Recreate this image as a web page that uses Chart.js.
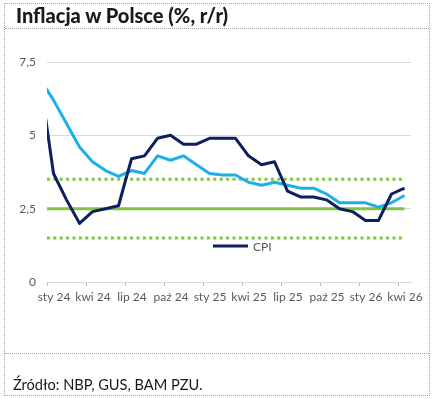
<!DOCTYPE html>
<html lang="pl">
<head>
<meta charset="utf-8">
<title>Inflacja w Polsce</title>
<script src="https://cdn.jsdelivr.net/npm/chart.js@4.4.1/dist/chart.umd.min.js"></script>
<style>
  html, body { margin: 0; padding: 0; background: #fff; }
  body { width: 435px; height: 399px; position: relative; overflow: hidden; font-family: Lato, "Open Sans", sans-serif; }
  #wykres { position: absolute; left: 0; top: 0; }
  .ramka { position: absolute; left: 4px; top: 3px; width: 424px; height: 391px; border: 1px dotted #a6a6a6; }
  .linia { position: absolute; left: 5px; width: 424px; border-top: 1px dotted #a6a6a6; }
  .tytul { position: absolute; left: 16px; top: 6px; font-size: 20px; line-height: 18px; font-weight: 900; color: #1a1a1a; white-space: nowrap; }
  .zrodlo { position: absolute; left: 13px; top: 378px; font-size: 14.6px; line-height: 14px; color: #1a1a1a; white-space: nowrap; }
</style>
</head>
<body>
<canvas id="wykres" width="435" height="399"></canvas>
<div class="ramka"></div>
<div class="tytul">Inflacja w Polsce (%, r/r)</div>
<div class="linia" style="top:28px"></div>
<div class="linia" style="top:353px"></div>
<div class="zrodlo">Źródło: NBP, GUS, BAM PZU.</div>

<script>
// miesiące (gru 23 jest przycięty lewą krawędzią osi)
const miesiace = [
  "gru 23",
  "sty 24", "lut 24", "mar 24", "kwi 24", "maj 24", "cze 24",
  "lip 24", "sie 24", "wrz 24", "paź 24", "lis 24", "gru 24",
  "sty 25", "lut 25", "mar 25", "kwi 25", "maj 25", "cze 25",
  "lip 25", "sie 25", "wrz 25", "paź 25", "lis 25", "gru 25",
  "sty 26", "lut 26", "mar 26", "kwi 26"
];

// CPI r/r
const cpi = [
  6.8,
  3.7, 2.8, 2.0, 2.4, 2.5, 2.6, 4.2, 4.3, 4.9, 5.0, 4.7, 4.7,
  4.9, 4.9, 4.9, 4.3, 4.0, 4.1, 3.1, 2.9, 2.9, 2.8, 2.5, 2.4,
  2.1, 2.1, 3.0, 3.2
];

// inflacja bazowa r/r
const bazowa = [
  6.9,
  6.2, 5.4, 4.6, 4.1, 3.8, 3.6, 3.8, 3.7, 4.3, 4.15, 4.3, 4.0,
  3.7, 3.65, 3.65, 3.4, 3.3, 3.4, 3.3, 3.2, 3.2, 3.0, 2.7, 2.7,
  2.7, 2.55, 2.7, 2.95
];

// cel NBP i pasmo odchyleń
const celNbp = 2.5;
const pasmoGorne = 3.5;
const pasmoDolne = 1.5;

const etykietyOsiX = ["sty 24", "kwi 24", "lip 24", "paź 24", "sty 25", "kwi 25", "lip 25", "paź 25", "sty 26", "kwi 26"];
const etykietyOsiY = [0, 2.5, 5, 7.5];

const SZARY = "#595959";
const GRANAT = "#0c1f5e";
const BLEKIT = "#1cb0ea";
const ZIELONY = "#82c341";

// indeks miesiąca: sty 24 = 0
const punkty = (wartosci) => wartosci.map((v, i) => ({ x: i - 1, y: v }));
const poziom = (v) => [
  { x: -1, y: v },
  { x: miesiace.length - 2, y: v }
];

// legenda wewnątrz wykresu, tylko CPI
const legendaCPI = {
  id: "legendaCPI",
  afterDatasetsDraw(chart) {
    const { ctx, chartArea } = chart;
    const ds = chart.data.datasets[0];
    const y = chartArea.bottom - 36;
    const x0 = chartArea.left + 166;
    ctx.save();
    ctx.strokeStyle = ds.borderColor;
    ctx.lineWidth = 3;
    ctx.beginPath();
    ctx.moveTo(x0, y);
    ctx.lineTo(x0 + 35, y);
    ctx.stroke();
    ctx.fillStyle = SZARY;
    ctx.font = "12px Lato";
    ctx.textBaseline = "middle";
    ctx.fillText(ds.label, x0 + 40, y + 1);
    ctx.restore();
  }
};

Chart.defaults.font.family = "Lato, 'Open Sans', sans-serif";

new Chart(document.getElementById("wykres"), {
  type: "line",
  data: {
    datasets: [
      {
        label: "CPI",
        data: punkty(cpi),
        borderColor: GRANAT,
        borderWidth: 3,
        pointRadius: 0,
        tension: 0,
        borderJoinStyle: "round"
      },
      {
        label: "Inflacja bazowa",
        data: punkty(bazowa),
        borderColor: BLEKIT,
        borderWidth: 3,
        pointRadius: 0,
        tension: 0,
        borderJoinStyle: "round"
      },
      {
        label: "Cel NBP",
        data: poziom(celNbp),
        borderColor: ZIELONY,
        borderWidth: 3,
        pointRadius: 0
      },
      {
        label: "Górna granica",
        data: poziom(pasmoGorne),
        borderColor: ZIELONY,
        borderWidth: 3,
        borderDash: [3, 3.4],
        pointRadius: 0
      },
      {
        label: "Dolna granica",
        data: poziom(pasmoDolne),
        borderColor: ZIELONY,
        borderWidth: 3,
        borderDash: [3, 3.4],
        pointRadius: 0
      }
    ]
  },
  options: {
    responsive: false,
    animation: false,
    devicePixelRatio: 1,
    layout: {
      padding: { left: 0, right: 24, top: 62, bottom: 87 }
    },
    plugins: {
      legend: { display: false },
      tooltip: { enabled: false }
    },
    scales: {
      x: {
        type: "linear",
        min: -0.5,
        max: 27.5,
        afterBuildTicks: (scale) => {
          scale.ticks = etykietyOsiX.map((_, i) => ({ value: -0.5 + 3 * i }));
        },
        afterFit: (scale) => {
          scale.height = 30;
        },
        ticks: {
          callback: (value, index) => etykietyOsiX[index],
          labelOffset: 7,
          maxRotation: 0,
          autoSkip: false,
          padding: 4,
          color: SZARY,
          font: { size: 12 }
        },
        grid: {
          drawOnChartArea: false,
          drawTicks: true,
          tickLength: 4,
          color: "#bfbfbf"
        },
        border: { color: "#d9d9d9" }
      },
      y: {
        min: 0,
        max: 7.5,
        afterBuildTicks: (scale) => {
          scale.ticks = etykietyOsiY.map((v) => ({ value: v }));
        },
        afterFit: (scale) => {
          scale.width = 47;
        },
        ticks: {
          callback: (value) => String(value).replace(".", ","),
          padding: 11,
          color: SZARY,
          font: { size: 12 }
        },
        grid: {
          color: "#d9d9d9",
          drawTicks: false
        },
        border: { display: false }
      }
    }
  },
  plugins: [legendaCPI]
});
</script>
</body>
</html>
